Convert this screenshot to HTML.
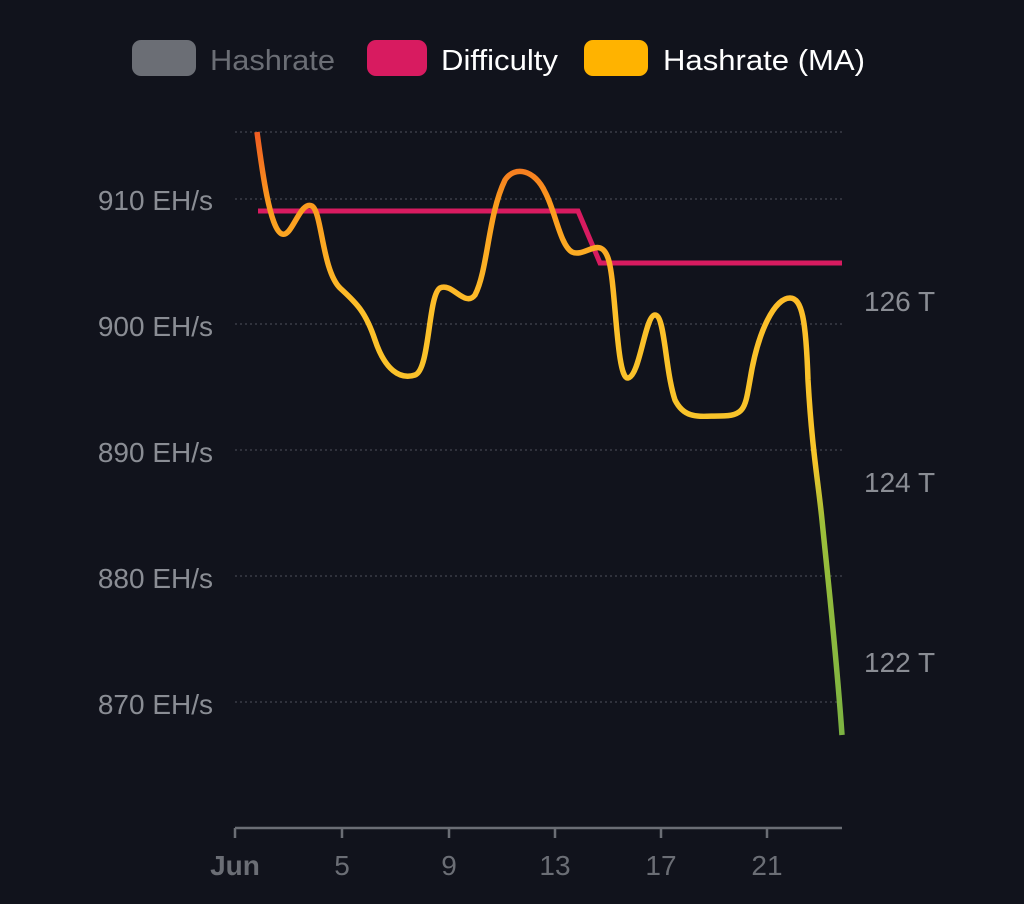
<!DOCTYPE html>
<html><head><style>
html,body{margin:0;padding:0;background:#11131c;}
svg{display:block;font-family:"Liberation Sans",sans-serif;}
</style></head><body>
<svg width="1024" height="904" viewBox="0 0 1024 904">
<rect width="1024" height="904" fill="#11131c"/>
<rect x="132" y="40" width="64" height="36" rx="9" fill="#6b6e75"/>
<text x="210" y="70" font-size="29" fill="#6b6e75" textLength="125" lengthAdjust="spacingAndGlyphs">Hashrate</text>
<rect x="367" y="40" width="60" height="36" rx="9" fill="#d81b60"/>
<text x="441" y="70" font-size="29" fill="#fff" textLength="117" lengthAdjust="spacingAndGlyphs">Difficulty</text>
<rect x="584" y="40" width="64" height="36" rx="9" fill="#ffb300"/>
<text x="663" y="70" font-size="29" fill="#fff" textLength="202" lengthAdjust="spacingAndGlyphs">Hashrate (MA)</text>
<g stroke="#3a3d47" stroke-width="1.5" stroke-dasharray="2,3">
<line x1="235" y1="132" x2="842" y2="132"/>
<line x1="235" y1="199" x2="842" y2="199"/>
<line x1="235" y1="324" x2="842" y2="324"/>
<line x1="235" y1="450" x2="842" y2="450"/>
<line x1="235" y1="576" x2="842" y2="576"/>
<line x1="235" y1="702" x2="842" y2="702"/>
</g>
<g font-size="28" fill="#8a8d94" text-anchor="end">
<text x="213" y="210">910 EH/s</text>
<text x="213" y="336">900 EH/s</text>
<text x="213" y="462">890 EH/s</text>
<text x="213" y="588">880 EH/s</text>
<text x="213" y="714">870 EH/s</text>
</g>
<g font-size="28" fill="#8a8d94">
<text x="864" y="311">126 T</text>
<text x="864" y="492">124 T</text>
<text x="864" y="672">122 T</text>
</g>
<line x1="235" y1="828" x2="842" y2="828" stroke="#6b6e75" stroke-width="2.5"/>
<g stroke="#6b6e75" stroke-width="2.5">
<line x1="235" y1="828" x2="235" y2="838"/><line x1="342" y1="828" x2="342" y2="838"/>
<line x1="449" y1="828" x2="449" y2="838"/><line x1="555" y1="828" x2="555" y2="838"/>
<line x1="661" y1="828" x2="661" y2="838"/><line x1="767" y1="828" x2="767" y2="838"/>
</g>
<g font-size="28" fill="#6b6e75" text-anchor="middle">
<text x="235" y="875" font-weight="bold">Jun</text>
<text x="342" y="875">5</text><text x="449" y="875">9</text>
<text x="555" y="875">13</text><text x="661" y="875">17</text><text x="767" y="875">21</text>
</g>
<path d="M258,211 L578,211 L600,263 L842,263" fill="none" stroke="#d81b60" stroke-width="5"/>
<defs><linearGradient id="g" gradientUnits="userSpaceOnUse" x1="0" y1="130" x2="0" y2="735">
<stop offset="0" stop-color="#f05a22"/><stop offset="0.12" stop-color="#fb9a1e"/>
<stop offset="0.3" stop-color="#fdc02a"/><stop offset="0.55" stop-color="#f6c52a"/>
<stop offset="0.65" stop-color="#9cbf3a"/><stop offset="1" stop-color="#7cb342"/></linearGradient></defs>
<path d="M257,132 C262,170 270,230 282,234 C292,238 300,200 312,206 C322,212 322,270 340,288 C355,302 365,310 375,340 C385,370 400,380 415,375 C430,370 428,295 440,288 C452,282 465,308 475,295 C488,270 488,215 505,180 C515,165 535,170 545,192 C555,210 560,245 572,252 C585,258 600,235 608,258 C616,280 616,380 628,378 C640,376 645,315 655,315 C665,315 665,370 675,400 C685,420 700,416 720,416 C745,416 745,408 750,380 C758,330 775,298 790,298 C802,298 806,320 808,380 C812,450 818,480 822,520 C828,580 836,650 842,735" fill="none" stroke="url(#g)" stroke-width="5.5"/>
</svg>
</body></html>
